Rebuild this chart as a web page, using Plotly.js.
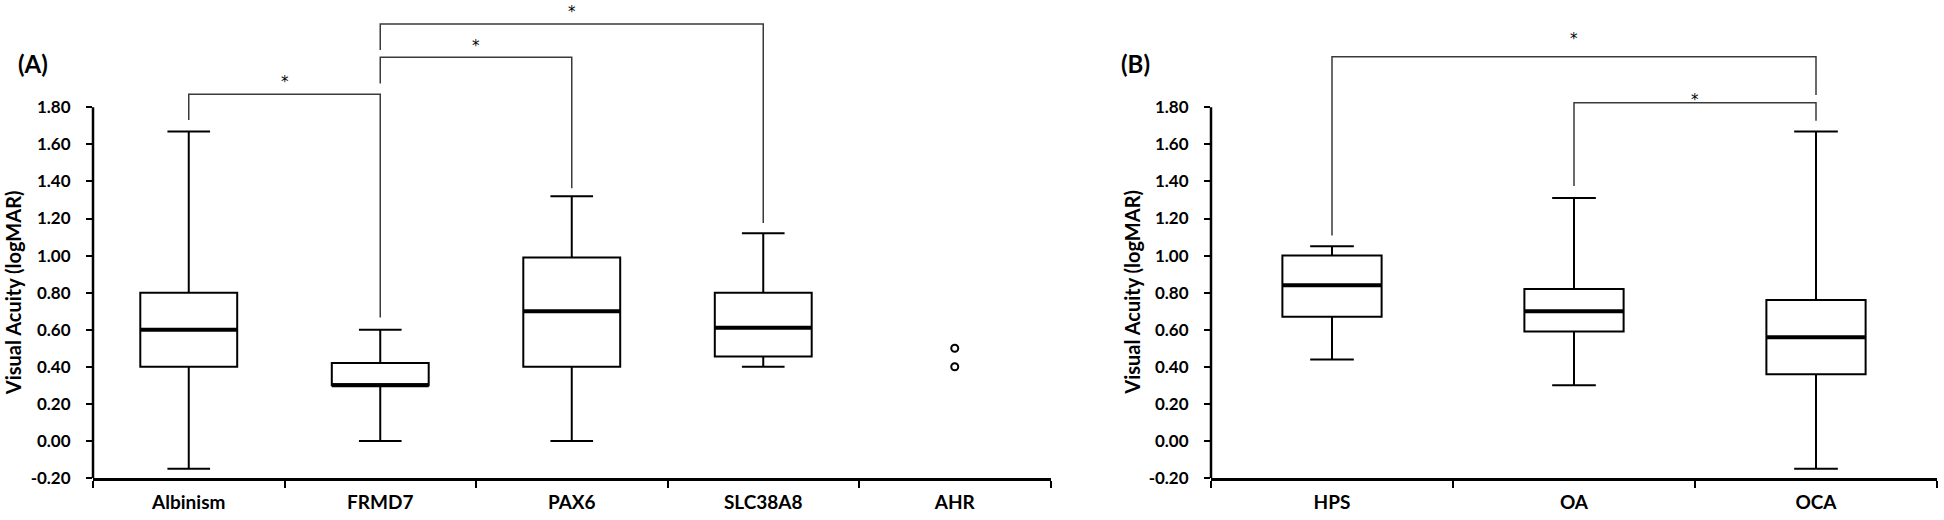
<!DOCTYPE html>
<html><head><meta charset="utf-8">
<script src="https://cdn.plot.ly/plotly-3.0.1.min.js"></script>
<style>html,body{margin:0;padding:0;background:#fff}#chart{width:1944px;height:520px}</style>
</head><body><div id="chart"></div>
<script>
// ---------- data ----------
const categoriesA = ['Albinism', 'FRMD7', 'PAX6', 'SLC38A8', 'AHR'];
const boxCatsA = ['Albinism', 'FRMD7', 'PAX6', 'SLC38A8'];
const lowerA  = [-0.15, 0.00, 0.00, 0.40];
const q1A     = [0.40, 0.30, 0.40, 0.455];
const medianA = [0.60, 0.30, 0.70, 0.61];
const q3A     = [0.80, 0.42, 0.99, 0.80];
const upperA  = [1.67, 0.60, 1.32, 1.12];
const pointCatA = ['AHR', 'AHR'];
const pointValA = [0.50, 0.40];

const categoriesB = ['HPS', 'OA', 'OCA'];
const lowerB  = [0.44, 0.30, -0.15];
const q1B     = [0.67, 0.59, 0.36];
const medianB = [0.84, 0.70, 0.56];
const q3B     = [1.00, 0.82, 0.76];
const upperB  = [1.05, 1.31, 1.67];

const yTickVals = [-0.2, 0, 0.2, 0.4, 0.6, 0.8, 1.0, 1.2, 1.4, 1.6, 1.8];
const yTickText = ['-0.20', '0.00', '0.20', '0.40', '0.60', '0.80', '1.00', '1.20', '1.40', '1.60', '1.80'];
const yTitle = 'Visual Acuity (logMAR)';
const panelLabels = ['(A)', '(B)'];

// significance brackets (y levels in axis units)
const sigA = [
  {from: 'Albinism', to: 'FRMD7',   bar: 1.870, endFrom: 1.732, endTo: 0.666, star: 1.951},
  {from: 'FRMD7',    to: 'PAX6',    bar: 2.070, endFrom: 1.929, endTo: 1.363, star: 2.148},
  {from: 'FRMD7',    to: 'SLC38A8', bar: 2.249, endFrom: 2.109, endTo: 1.176, star: 2.328}
];
const sigB = [
  {from: 'HPS', to: 'OCA', bar: 2.073, endFrom: 1.108, endTo: 1.866, star: 2.184},
  {from: 'OA',  to: 'OCA', bar: 1.825, endFrom: 1.376, endTo: 1.728, star: 1.854}
];

// ---------- styling ----------
const FONT = 'Lato, "Open Sans", "DejaVu Sans", sans-serif';
const W = 1944, H = 520;
const plotBottomPx = 478, marginB = H - plotBottomPx;
const yMax = plotBottomPx / 185.35 - 0.2;
const boxWA = 0.506, boxWB = 0.41;

function boxTrace(cats, lo, q1, med, q3, hi, w, xa, ya) {
  return {
    type: 'box', x: cats, q1: q1, median: med, q3: q3,
    lowerfence: lo, upperfence: hi, width: w, whiskerwidth: 0.44,
    line: {color: '#000', width: 2}, fillcolor: 'rgba(255,255,255,0)',
    boxpoints: false, hoverinfo: 'skip', showlegend: false,
    xaxis: xa, yaxis: ya
  };
}

const traces = [
  boxTrace(boxCatsA, lowerA, q1A, medianA, q3A, upperA, boxWA, 'x', 'y'),
  {type: 'scatter', mode: 'markers', x: pointCatA, y: pointValA,
   marker: {symbol: 'circle-open', size: 7, color: '#000', line: {width: 2, color: '#000'}},
   cliponaxis: false, hoverinfo: 'skip', showlegend: false, xaxis: 'x', yaxis: 'y'},
  boxTrace(categoriesB, lowerB, q1B, medianB, q3B, upperB, boxWB, 'x2', 'y2')
];

const shapes = [];
const annotations = [];

function medianShapes(cats, allCats, med, w, xa, ya) {
  cats.forEach((c, i) => {
    const idx = allCats.indexOf(c);
    shapes.push({type: 'line', xref: xa, yref: ya, x0: idx - w / 2, x1: idx + w / 2,
      y0: med[i], y1: med[i], line: {color: '#000', width: 4}});
  });
}
medianShapes(boxCatsA, categoriesA, medianA, boxWA, 'x', 'y');
medianShapes(categoriesB, categoriesB, medianB, boxWB, 'x2', 'y2');

function brackets(list, allCats, xa, ya) {
  list.forEach(b => {
    const i0 = allCats.indexOf(b.from), i1 = allCats.indexOf(b.to);
    shapes.push({type: 'path', xref: xa, yref: ya,
      path: `M ${i0},${b.endFrom} L ${i0},${b.bar} L ${i1},${b.bar} L ${i1},${b.endTo}`,
      line: {color: '#3a3a3a', width: 1.5}});
    annotations.push({xref: xa, yref: ya, x: (i0 + i1) / 2, y: b.star, text: '*',
      showarrow: false, xanchor: 'center', yanchor: 'middle', yshift: -3,
      font: {family: '"DejaVu Sans", sans-serif', size: 15, color: '#000'}});
  });
}
brackets(sigA, categoriesA, 'x', 'y');
brackets(sigB, categoriesB, 'x2', 'y2');

// y-axis lines limited to the tick range
[['x', 'y'], ['x2', 'y2']].forEach(([xa, ya]) => {
  shapes.push({type: 'line', xref: xa + ' domain', yref: ya, x0: 0, x1: 0,
    y0: yTickVals[0], y1: yTickVals[yTickVals.length - 1], line: {color: '#000', width: 2.5}});
});

// axis titles and panel labels
[12.5, 1132].forEach(px => {
  annotations.push({xref: 'paper', yref: 'paper', x: px / W, y: (plotBottomPx - 292.7) / plotBottomPx,
    text: yTitle, textangle: -90, showarrow: false, xanchor: 'center', yanchor: 'middle',
    font: {family: FONT, size: 20, weight: 'bold', color: '#000'}});
});
[[33, 0], [1135, 1]].forEach(([px, k]) => {
  annotations.push({xref: 'paper', yref: 'paper', x: px / W, y: (plotBottomPx - 63) / plotBottomPx,
    text: panelLabels[k], showarrow: false, xanchor: 'center', yanchor: 'middle',
    font: {family: FONT, size: 24, weight: 'bold', color: '#000'}});
});

function xAxis(cats, domain, anchor) {
  return {
    type: 'category', categoryorder: 'array', categoryarray: cats,
    range: [-0.5, cats.length - 0.5], domain: domain, anchor: anchor,
    tickson: 'boundaries', ticks: 'outside', ticklen: 7, tickwidth: 2, tickcolor: '#000',
    showline: true, linewidth: 2.5, linecolor: '#000', showgrid: false, zeroline: false,
    ticklabelstandoff: 6,
    tickfont: {family: FONT, size: 19, weight: 'bold', color: '#000'},
    fixedrange: true, automargin: false
  };
}
function yAxis(anchor) {
  return {
    range: [-0.2, yMax], anchor: anchor, tickmode: 'array', tickvals: yTickVals, ticktext: yTickText,
    ticks: 'outside', ticklen: 6, tickwidth: 2, tickcolor: '#000',
    showline: false, showgrid: false, zeroline: false, ticklabelstandoff: 12,
    tickfont: {family: FONT, size: 17, weight: 'bold', color: '#000'},
    fixedrange: true, automargin: false
  };
}

const layout = {
  width: W, height: H,
  margin: {l: 0, r: 0, t: 0, b: marginB, pad: 0},
  paper_bgcolor: '#fff', plot_bgcolor: '#fff',
  showlegend: false, boxmode: 'overlay',
  font: {family: FONT, color: '#000'},
  xaxis: xAxis(categoriesA, [93 / W, 1050.5 / W], 'y'),
  yaxis: yAxis('x'),
  xaxis2: xAxis(categoriesB, [1211 / W, 1937 / W], 'y2'),
  yaxis2: yAxis('x2'),
  shapes: shapes, annotations: annotations
};

Plotly.newPlot('chart', traces, layout, {displayModeBar: false, staticPlot: true});
</script></body></html>
